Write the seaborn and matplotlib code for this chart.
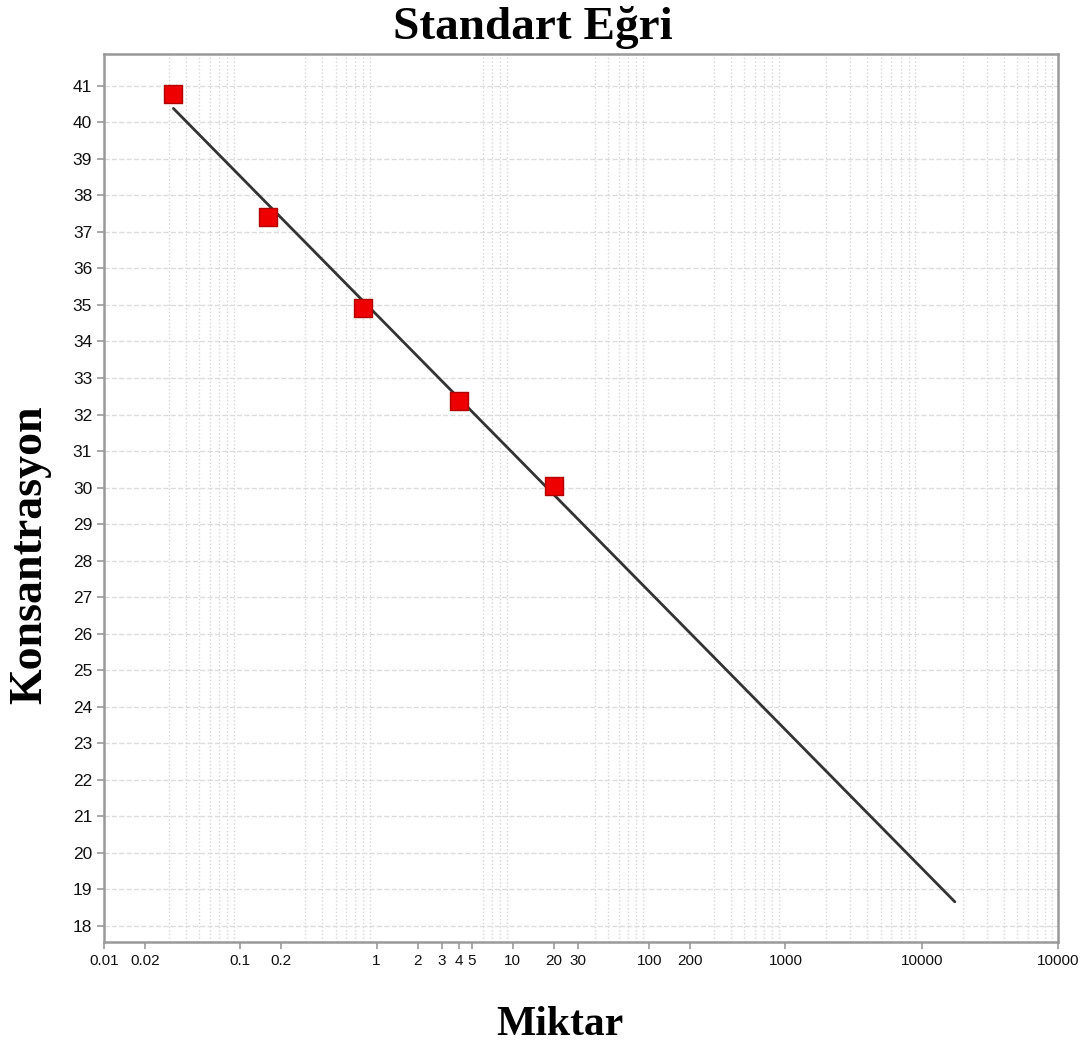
import numpy as np
import pandas as pd
import seaborn as sns
import matplotlib.pyplot as plt
from matplotlib.ticker import LogLocator, NullFormatter

# standart noktalari
miktar = [0.032, 0.16, 0.8, 4, 20]
konsantrasyon = [40.78, 37.42, 34.92, 32.36, 30.03]

# regresyon cizgisi (uc noktalar)
line_x = [0.0323, 17500]
line_y = [40.38, 18.66]

xtick_pos = [0.01, 0.02, 0.1, 0.2, 1, 2, 3, 4, 5, 10, 20, 30, 100, 200, 1000, 10000, 100000]
xtick_lab = ['0.01', '0.02', '0.1', '0.2', '1', '2', '3', '4', '5', '10', '20', '30',
             '100', '200', '1000', '10000', '10000']
ytick_pos = list(range(18, 42))

sns.set_style("white")
plt.rcParams['font.family'] = ['Liberation Sans', 'DejaVu Sans']

df = pd.DataFrame({'Miktar': miktar, 'Konsantrasyon': konsantrasyon})

fig = plt.figure(figsize=(10.89, 10.48), dpi=100)
ax = fig.add_axes([104/1089, 1 - 942/1048, (1058-104)/1089, (942-54)/1048])

sns.lineplot(x=line_x, y=line_y, color='#333333', linewidth=2, ax=ax, zorder=3)
sns.scatterplot(data=df, x='Miktar', y='Konsantrasyon', marker='s', s=175,
                color='#ee0000', edgecolor='#b00000', linewidth=1, ax=ax, zorder=4)

ax.set_xscale('log')
ax.set_xlim(0.01, 100000)
ax.set_ylim(17.56, 41.87)

ax.set_xticks(xtick_pos)
ax.set_xticklabels(xtick_lab)
ax.set_yticks(ytick_pos)
ax.xaxis.set_minor_locator(LogLocator(base=10, subs=np.arange(1, 10), numticks=30))
ax.xaxis.set_minor_formatter(NullFormatter())

ax.grid(which='minor', axis='x', linestyle=':', color='#d6d6d6', linewidth=1)
ax.grid(which='major', axis='y', linestyle='--', color='#dcdcdc', linewidth=1)
ax.grid(which='major', axis='x', visible=False)

ax.tick_params(axis='both', which='major', direction='out', length=5, width=1.2,
               color='#999999', labelcolor='#111111', bottom=True, left=True)
ax.tick_params(axis='x', labelsize=11)
ax.tick_params(axis='y', labelsize=12.5)
ax.tick_params(which='minor', length=0)

for sp in ax.spines.values():
    sp.set_color('#999999')
    sp.set_linewidth(1.8)

serif = ['Liberation Serif', 'DejaVu Serif']
fig.text(0.489, 0.974, 'Standart Eğri', ha='center', va='center', color='black',
         fontsize=34, fontweight='bold', family=serif)
ax.set_xlabel('Miktar', fontsize=30, fontweight='bold', family=serif, color='black')
ax.set_ylabel('Konsantrasyon', fontsize=33, fontweight='bold', family=serif, color='black')
ax.xaxis.set_label_coords(0.478, -0.0935)
ax.yaxis.set_label_coords(-0.0776, 0.436)
ax.xaxis.label.set_va('center')
ax.yaxis.label.set_va('center')

fig.savefig('out.png', dpi=100)
